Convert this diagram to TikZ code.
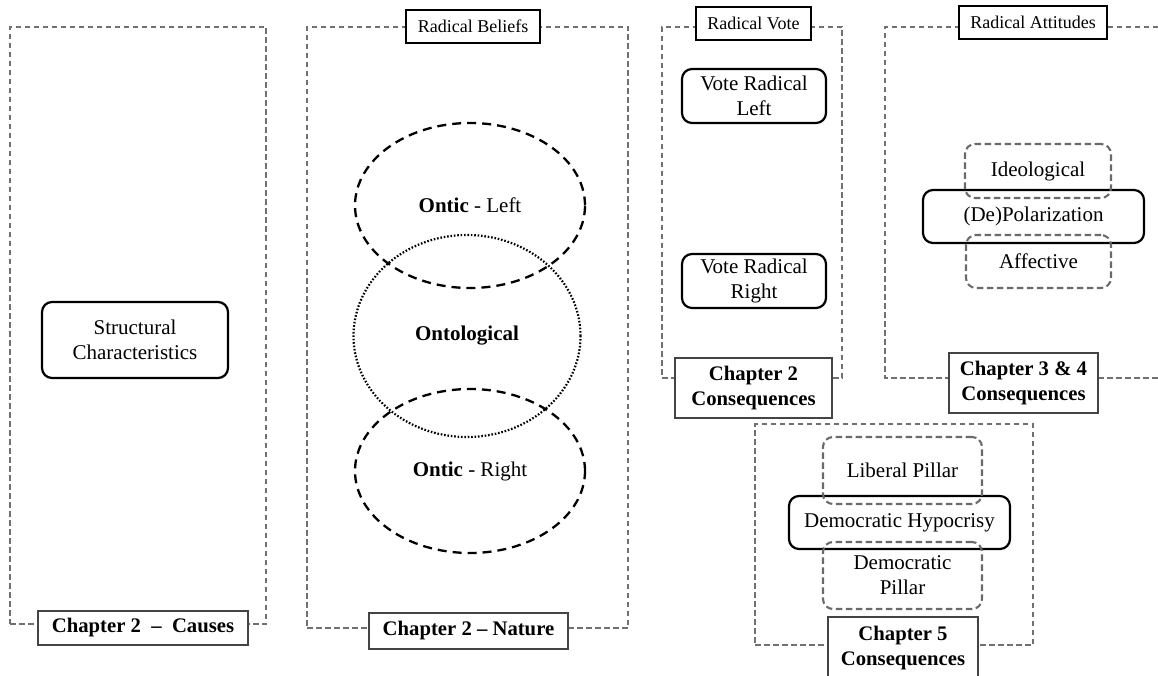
\documentclass[tikz,border=0pt]{standalone}
\usepackage{fontspec}
\setmainfont{Liberation Serif}
\usetikzlibrary{shapes.geometric}
\definecolor{dgray}{HTML}{707070}
\definecolor{igray}{HTML}{6A6A6A}
\definecolor{lgray}{HTML}{444444}
\tikzset{
  body/.style={font=\fontsize{21}{25}\selectfont, align=center, inner sep=0pt},
  outerbox/.style={draw=dgray, line width=1.4pt, dash pattern=on 5.5pt off 3.5pt, inner sep=0pt},
  solidbox/.style={body, draw=black, line width=2.2pt, rounded corners=10pt},
  dashbox/.style={body, draw=igray, line width=2.1pt, dash pattern=on 6.5pt off 3.5pt, rounded corners=10pt},
  toplabel/.style={draw=black, line width=2.4pt, fill=white, inner sep=0pt, font=\fontsize{18}{21}\selectfont},
  chaplabel/.style={draw=lgray, line width=1.5pt, fill=white, inner sep=0pt, align=center, font=\fontsize{20.7}{25}\selectfont\bfseries},
  dashell/.style={ellipse, draw=black, line width=2.3pt, dash pattern=on 9pt off 6pt, inner sep=0pt, body},
  dotell/.style={ellipse, draw=black, line width=2.2pt, dash pattern=on 1.6pt off 1.8pt, inner sep=0pt, body}
}
\begin{document}
\begin{tikzpicture}[x=1pt, y=-1pt]
\useasboundingbox (0,0) rectangle (1158,676);
% outer dashed frames
\node[outerbox, minimum width=256, minimum height=597] (f1) at (138,325.5) {};
\node[outerbox, minimum width=321, minimum height=601] (f2) at (467.5,327.5) {};
\node[outerbox, minimum width=180, minimum height=351] (f3) at (752,202.5) {};
\coordinate (f4a) at (1158,27);
\coordinate (f4b) at (885,27);
\coordinate (f4c) at (885,378);
\coordinate (f4d) at (1158,378);
\draw[draw=dgray, line width=1.4pt, dash pattern=on 5.5pt off 3.5pt] (f4a) -- (f4b) -- (f4c) -- (f4d);
\node[outerbox, minimum width=278, minimum height=221] (f5) at (894,534.5) {};

% ellipses
\node[dashell, minimum width=230, minimum height=165] (oleft) at (470,205.5) {\textbf{Ontic} - Left};
\node[dotell, minimum width=227, minimum height=202] (onto) at (467,336) {\textbf{Ontological}};
\node[dashell, minimum width=230, minimum height=164] (oright) at (470,471) {\textbf{Ontic} - Right};

% chapter 2 causes
\node[solidbox, minimum width=186, minimum height=76] (struct) at (135,340) {Structural\\Characteristics};

% radical vote
\node[solidbox, minimum width=144, minimum height=54] (vleft) at (754,96) {Vote Radical\\Left};
\node[solidbox, minimum width=144, minimum height=54] (vright) at (754,281) {Vote Radical\\Right};

% radical attitudes
\node[solidbox, minimum width=221, minimum height=53] (depol) at (1033.5,216.5) {(De)Polarization};
\node[dashbox, minimum width=146, minimum height=54] (ideo) at (1038,171) {Ideological};
\node[dashbox, minimum width=145, minimum height=53] (affect) at (1038.5,261.5) {Affective};

% chapter 5
\node[solidbox, minimum width=221, minimum height=53] (dh) at (899.5,522.5) {Democratic Hypocrisy};
\node[dashbox, minimum width=159, minimum height=67] (lib) at (902.5,470.5) {Liberal Pillar};
\node[dashbox, minimum width=159, minimum height=67] (dem) at (902.5,575.5) {Democratic\\Pillar};

% top labels
\node[toplabel, minimum width=134, minimum height=33] (beliefs) at (473,26.5) {Radical Beliefs};
\node[toplabel, minimum width=115, minimum height=33] (vote) at (753.5,23.5) {Radical Vote};
\node[toplabel, minimum width=148, minimum height=33] (att) at (1033,22.5) {Radical Attitudes};

% chapter labels
\node[chaplabel, minimum width=210, minimum height=34] (causes) at (143,628) {Chapter 2\ \ –\ \ Causes};
\node[chaplabel, minimum width=199, minimum height=36] (nature) at (468.5,631) {Chapter 2 – Nature};
\node[chaplabel, minimum width=157, minimum height=60] (ch2c) at (753.5,388) {Chapter 2\\Consequences};
\node[chaplabel, minimum width=149, minimum height=60] (ch34) at (1023.5,383) {Chapter 3 \& 4\\Consequences};
\node[chaplabel, minimum width=150, minimum height=62] (ch5) at (903,648) {Chapter 5\\Consequences};
\end{tikzpicture}
\end{document}
